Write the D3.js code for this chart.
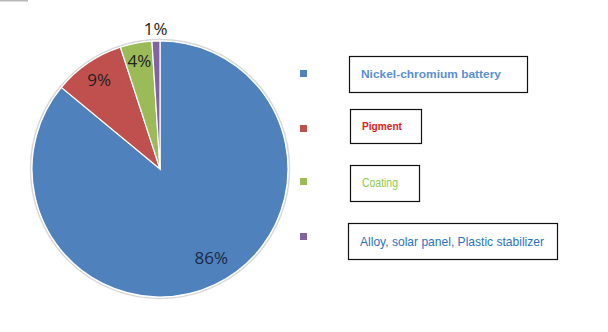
<!DOCTYPE html>
<html><head><meta charset="utf-8">
<script src="https://cdn.jsdelivr.net/npm/d3@7"></script>
<style>body{margin:0;background:#fff}svg{display:block}</style>
</head><body>
<script>
const categories = ["Nickel-chromium battery", "Pigment", "Coating", "Alloy, solar panel, Plastic stabilizer"];
const values = [86, 9, 4, 1];
const pctLabels = ["86%", "9%", "4%", "1%"];
const colors = ["#4F81BD", "#C0504D", "#9BBB59", "#8064A2"];
const legendTextColors = ["#5B8FD4", "#E81818", "#8CCB4E", "#2A72C4"];
const legendBold = [true, true, false, false];

const W = 608, H = 332;
const svg = d3.select("body").append("svg").attr("width", W).attr("height", H);

svg.append("rect").attr("x", 0).attr("y", 0).attr("width", 28).attr("height", 1.5).attr("fill", "#b8b8b8");

const cx = 160, cy = 169, R = 128;
const g = svg.append("g").attr("transform", `translate(${cx},${cy})`);
g.append("circle").attr("r", R + 1.5).attr("fill", "none").attr("stroke", "#d8d8d8").attr("stroke-width", 1.5);

const pie = d3.pie().sort(null).value(d => d);
const arcs = pie(values);
const arc = d3.arc().innerRadius(0).outerRadius(R);
g.selectAll("path.slice").data(arcs).join("path")
  .attr("class", "slice")
  .attr("d", arc)
  .attr("fill", (d, i) => colors[i])
  .attr("stroke", "#fff").attr("stroke-width", 1.2);

// label placement: radius (fraction of R) and angular nudge (degrees)
const labelR = [0.80, 0.845, 0.86, 1.10];
const labelNudge = [-4.8, 0, 0, 0];
g.selectAll("text.lbl").data(arcs).join("text")
  .attr("class", "lbl")
  .attr("transform", (d, i) => {
    const a = (d.startAngle + d.endAngle) / 2 + labelNudge[i] * Math.PI / 180;
    const r = R * labelR[i];
    return `translate(${Math.sin(a) * r},${-Math.cos(a) * r})`;
  })
  .attr("text-anchor", "middle").attr("dominant-baseline", "central")
  .attr("font-family", "Open Sans, Liberation Sans, sans-serif")
  .attr("font-size", 17)
  .attr("fill", (d, i) => i === 0 ? "#1c2a44" : "#222")
  .text((d, i) => pctLabels[i]);

// Legend
const markerY = [70, 125, 178, 233];
const boxes = [[349, 56, 178, 36], [350, 109, 71, 34], [350, 165, 69, 36], [348, 223, 209, 36]];
const textW = [140, 40, 36, 184];
const fontSizes = [11, 11, 12, 13];
const lg = svg.append("g");
categories.forEach((c, i) => {
  lg.append("rect").attr("x", 300).attr("y", markerY[i]).attr("width", 7).attr("height", 7).attr("fill", colors[i]);
  const b = boxes[i];
  lg.append("rect").attr("x", b[0] + 0.5).attr("y", b[1] + 0.5).attr("width", b[2]).attr("height", b[3])
    .attr("fill", "none").attr("stroke", "#111").attr("stroke-width", 1.2);
  lg.append("text").attr("x", b[0] + 12).attr("y", b[1] + b[3] / 2)
    .attr("dominant-baseline", "central")
    .attr("font-family", "Liberation Sans, Arial, sans-serif")
    .attr("font-size", fontSizes[i])
    .attr("font-weight", legendBold[i] ? "bold" : "normal")
    .attr("fill", legendTextColors[i])
    .attr("textLength", textW[i]).attr("lengthAdjust", "spacingAndGlyphs")
    .text(c);
});
</script>
</body></html>
